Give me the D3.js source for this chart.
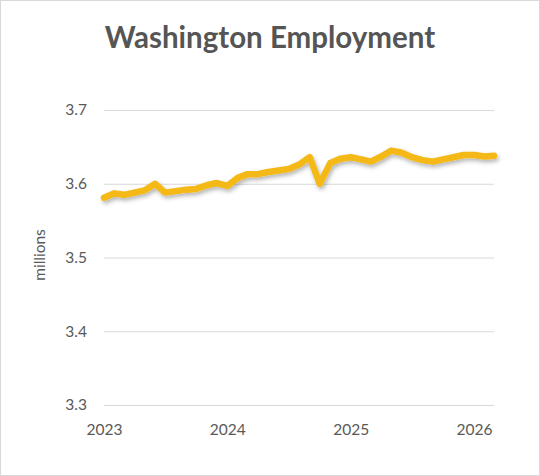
<!DOCTYPE html>
<html>
<head>
<meta charset="utf-8">
<script src="https://cdn.jsdelivr.net/npm/d3@7"></script>
<style>
  body { margin: 0; background: #fff; }
  svg { display: block; font-family: Lato, "Open Sans", sans-serif; }
</style>
</head>
<body>
<svg id="chart" width="540" height="476"></svg>
<script>
// monthly points, Jan 2023 .. Mar 2026
var months = [
  "2023-01", "2023-02", "2023-03", "2023-04", "2023-05", "2023-06",
  "2023-07", "2023-08", "2023-09", "2023-10", "2023-11", "2023-12",
  "2024-01", "2024-02", "2024-03", "2024-04", "2024-05", "2024-06",
  "2024-07", "2024-08", "2024-09", "2024-10", "2024-11", "2024-12",
  "2025-01", "2025-02", "2025-03", "2025-04", "2025-05", "2025-06",
  "2025-07", "2025-08", "2025-09", "2025-10", "2025-11", "2025-12",
  "2026-01", "2026-02", "2026-03"
];
var employment = [
  3.581, 3.587, 3.585, 3.588, 3.591, 3.600,
  3.588, 3.590, 3.592, 3.593, 3.598, 3.601,
  3.597, 3.608, 3.613, 3.613, 3.616, 3.618,
  3.620, 3.626, 3.636, 3.600, 3.628, 3.634,
  3.636, 3.633, 3.630, 3.637, 3.645, 3.642,
  3.636, 3.632, 3.630, 3.633, 3.636, 3.639,
  3.639, 3.637, 3.638
];
var yTicks = [3.3, 3.4, 3.5, 3.6, 3.7];
var yearTicks = ["2023", "2024", "2025", "2026"];

var parseMonth = d3.timeParse("%Y-%m");
var data = months.map(function(m, i) {
  return { date: parseMonth(m), value: employment[i] };
});

var svg = d3.select("#chart");
var W = 540, H = 476;

// outer frame
svg.append("rect")
  .attr("x", 0.5).attr("y", 0.5)
  .attr("width", W - 1).attr("height", H - 1)
  .attr("fill", "#fff")
  .attr("stroke", "#d9d9d9");

var defs = svg.append("defs");
var shadow = defs.append("filter")
  .attr("id", "shadow")
  .attr("x", "-5%").attr("y", "-20%")
  .attr("width", "110%").attr("height", "140%");
shadow.append("feDropShadow")
  .attr("dx", 1.5).attr("dy", 2.5)
  .attr("stdDeviation", 2)
  .attr("flood-color", "#000")
  .attr("flood-opacity", 0.3);

var x = d3.scaleTime()
  .domain(d3.extent(data, function(d) { return d.date; }))
  .range([104, 494]);

var y = d3.scaleLinear()
  .domain([3.3, 3.7])
  .range([405, 110]);

svg.append("text")
  .attr("x", 270)
  .attr("y", 48)
  .attr("text-anchor", "middle")
  .attr("font-size", 29.5)
  .attr("font-weight", "bold")
  .attr("fill", "#555")
  .text("Washington Employment");

// gridlines + y labels
var yAxis = d3.axisLeft(y)
  .tickValues(yTicks)
  .tickSize(-(x.range()[1] - x.range()[0]))
  .tickPadding(17)
  .tickFormat(d3.format(".1f"));

var gy = svg.append("g")
  .attr("transform", "translate(" + x.range()[0] + ",0)")
  .call(yAxis);
gy.select(".domain").remove();
gy.selectAll(".tick line").attr("stroke", "#d9d9d9").attr("stroke-width", 1);
gy.selectAll(".tick text")
  .attr("font-size", 15.5)
  .attr("fill", "#595959")
  .attr("font-family", "Lato, sans-serif");

// year labels
var xAxis = d3.axisBottom(x)
  .tickValues(yearTicks.map(function(yr) { return parseMonth(yr + "-01"); }))
  .tickSize(0)
  .tickPadding(19)
  .tickFormat(d3.timeFormat("%Y"));

var gx = svg.append("g")
  .attr("transform", "translate(0," + y(3.3) + ")")
  .call(xAxis);
gx.select(".domain").remove();
gx.selectAll(".tick text")
  .attr("font-size", 15.5)
  .attr("fill", "#595959")
  .attr("font-family", "Lato, sans-serif");

svg.append("text")
  .attr("transform", "translate(45,255) rotate(-90)")
  .attr("text-anchor", "middle")
  .attr("font-size", 15.5)
  .attr("fill", "#595959")
  .text("millions");

var line = d3.line()
  .x(function(d) { return x(d.date); })
  .y(function(d) { return y(d.value); });

svg.append("path")
  .datum(data)
  .attr("d", line)
  .attr("fill", "none")
  .attr("stroke", "#f4b914")
  .attr("stroke-width", 6.5)
  .attr("stroke-linejoin", "round")
  .attr("stroke-linecap", "round")
  .attr("filter", "url(#shadow)");
</script>
</body>
</html>
